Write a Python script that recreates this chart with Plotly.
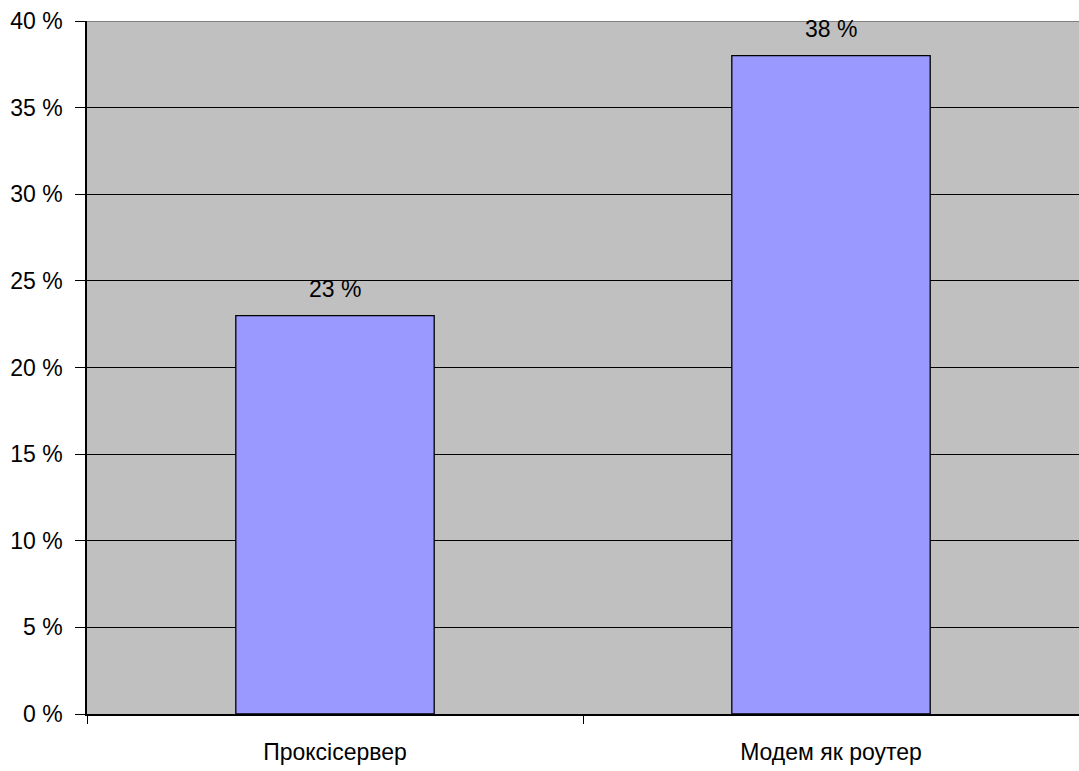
import plotly.graph_objects as go

categories = ["Проксісервер", "Модем як роутер"]
values = [23, 38]
labels = ["23 %", "38 %"]
y_ticks = [0, 5, 10, 15, 20, 25, 30, 35, 40]
y_tick_text = [f"{v} %" for v in y_ticks]

font = dict(family="Liberation Sans, Arial, sans-serif", size=23, color="#000000")

fig = go.Figure()
fig.add_trace(go.Bar(
    x=categories, y=values, width=0.4,
    marker=dict(color="#9999FF", line=dict(color="#000000", width=1.3)),
    hoverinfo="skip",
))
for c, v, t in zip(categories, values, labels):
    fig.add_annotation(x=c, y=v, text=t, showarrow=False, yanchor="middle",
                       yshift=27, font=font)

fig.add_shape(type="line", xref="paper", yref="y", x0=0, x1=1, y0=40, y1=40,
              line=dict(color="#808080", width=2), layer="above")

fig.update_layout(
    width=1079, height=771,
    margin=dict(l=87, r=0, t=21, b=57),
    paper_bgcolor="#FFFFFF", plot_bgcolor="#C0C0C0",
    font=font, showlegend=False, bargap=0.6,
)
fig.update_xaxes(
    type="category", range=[-0.5, 1.5], tickson="boundaries",
    ticks="outside", ticklen=8, tickcolor="#000000", tickwidth=1.3,
    showline=True, linecolor="#000000", linewidth=1.5,
    showgrid=False, ticklabelstandoff=17, tickfont=font,
)
fig.update_yaxes(
    range=[0, 40], tickvals=y_ticks, ticktext=y_tick_text,
    ticks="outside", ticklen=10, tickcolor="#000000", tickwidth=1.3,
    showline=True, linecolor="#000000", linewidth=1.5,
    showgrid=True, gridcolor="#000000", gridwidth=1.3,
    zeroline=False, ticklabelstandoff=8, tickfont=font,
)

fig.write_html(
    "out.html",
    config={"displayModeBar": False},
    post_script="document.body.style.margin='0';document.body.style.overflow='hidden';",
)
